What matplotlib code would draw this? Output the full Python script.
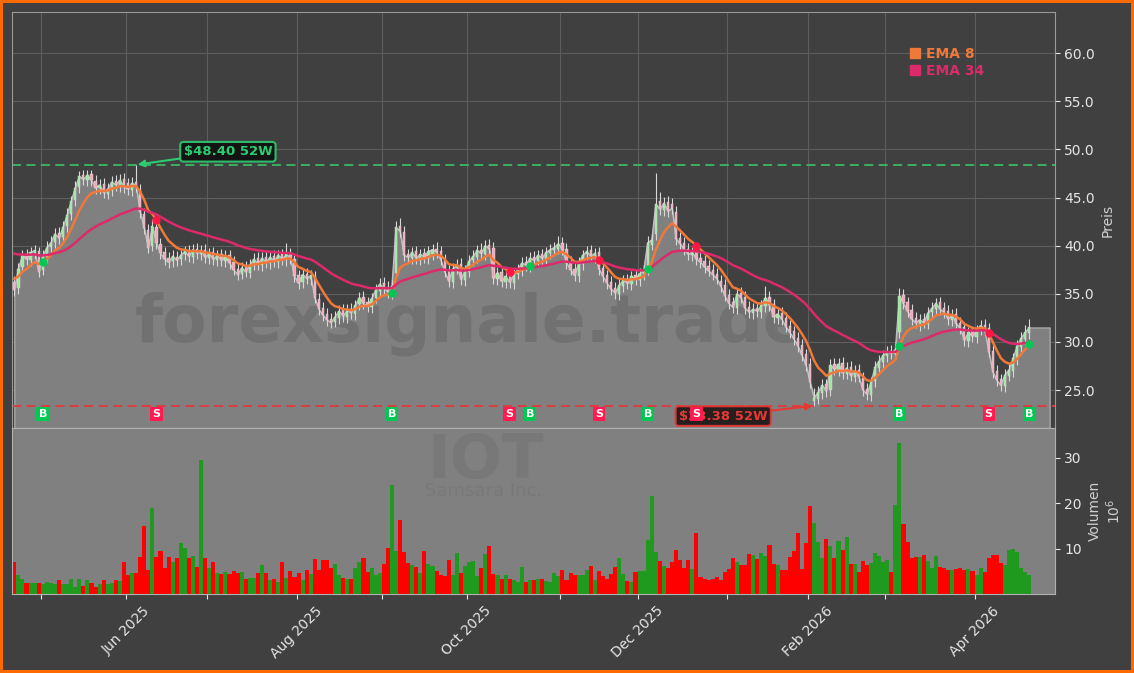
import numpy as np
import matplotlib
matplotlib.use("Agg")
import matplotlib.pyplot as plt
from matplotlib.lines import Line2D

# daily candles, IOT (Samsara Inc.)
close = [
    35.4, 37.6, 39.0, 38.6, 39.3, 39.5, 37.3, 38.9, 39.8, 40.3,
    41.2, 40.8, 41.9, 43.2, 44.6, 46.0, 47.2, 46.9, 47.3, 46.8,
    46.0, 46.3, 45.5, 45.9, 46.6, 46.3, 46.8, 46.1, 45.9,
    46.5, 46.2, 43.5, 41.8, 39.8, 42.0, 40.3, 39.2, 38.6, 38.3,
    38.9, 38.5, 39.0, 39.4, 38.9, 39.6, 39.2, 39.5, 38.8, 39.2,
    38.6, 39.0, 38.5, 38.9, 38.2, 37.5, 37.0, 37.7, 37.3, 38.0,
    38.6, 38.1, 38.7, 38.3, 38.8, 38.4, 39.0, 38.6, 39.1, 38.7,
    36.8, 36.1, 37.0, 36.6, 36.9, 34.6, 33.4, 32.8, 32.3, 32.0,
    32.6, 33.2, 32.7, 33.3, 33.0, 33.8, 34.6, 34.0, 33.7, 34.5,
    35.4, 36.0, 35.6, 35.2, 35.8, 41.9, 41.5, 39.0, 38.8, 39.3,
    38.7, 39.1, 38.8, 39.4, 39.6, 39.3, 38.6, 37.3, 36.3,
    37.6, 38.0, 36.5, 37.4, 38.4, 38.9, 39.5, 39.2, 40.0, 39.7,
    36.6, 37.2, 36.3, 36.8, 36.2, 37.0, 37.5, 38.2, 38.0, 38.7,
    38.5, 39.0, 38.7, 39.3, 39.6, 39.8, 40.2, 39.6, 38.2, 37.5,
    36.9, 38.2, 39.0, 39.4, 38.9, 39.2, 37.6, 36.8, 36.1, 35.5,
    35.1, 35.9, 36.4, 36.1, 36.8, 36.5, 37.1, 37.4, 40.3, 40.6,
    44.3, 43.8, 44.4, 43.6, 43.9, 40.7, 40.2, 39.6, 39.1, 39.3,
    38.6, 38.3, 37.8, 37.4, 37.0, 36.6, 35.8, 34.8, 34.0,
    33.6, 35.0, 34.6, 33.5, 33.1, 33.4, 33.2, 33.8, 34.6, 33.8,
    32.6, 32.9, 32.4, 31.6, 31.0, 30.3, 29.6, 28.6, 27.6, 25.8,
    24.2, 24.8, 25.5, 24.9, 27.6, 27.2, 27.7, 26.8, 27.3, 26.5,
    27.0, 26.4, 25.0, 24.6, 25.8, 27.4, 28.0, 28.6, 29.0, 28.8,
    29.2, 34.8, 34.0, 33.2, 32.4, 32.0, 32.3, 32.0, 33.0,
    33.5, 34.0, 33.4, 33.1, 32.4, 32.8, 31.9, 31.4, 30.2, 31.0,
    30.6, 31.2, 31.7, 31.3, 29.0, 26.9, 26.0, 25.5, 26.6, 27.1,
    28.3, 29.6, 30.4, 31.0, 31.5]

opens = [
    36.2, 35.6, 37.8, 39.1, 38.5, 39.2, 39.4, 37.5, 38.8, 39.9,
    40.4, 41.3, 40.9, 42.0, 43.3, 44.7, 46.1, 47.3, 46.8, 47.4,
    46.7, 46.0, 46.4, 45.4, 45.8, 46.7, 46.2, 46.9, 46.5,
    45.8, 46.6, 45.8, 43.3, 41.6, 40.0, 41.9, 40.2, 39.3, 38.7,
    38.4, 38.8, 38.6, 39.1, 39.5, 38.8, 39.7, 39.1, 39.6, 38.7,
    39.3, 38.5, 39.1, 38.4, 39.0, 38.3, 37.6, 37.1, 37.8, 37.2,
    38.1, 38.7, 38.0, 38.8, 38.2, 38.9, 38.3, 39.1, 38.5, 39.2,
    38.6, 36.9, 36.2, 37.1, 36.5, 36.8, 34.5, 33.5, 32.9, 32.4,
    32.1, 32.5, 33.3, 32.6, 33.4, 32.9, 33.9, 34.7, 34.1, 33.6,
    34.6, 35.3, 36.1, 35.7, 35.1, 37.2, 42.0, 41.4, 39.1, 38.7,
    39.4, 38.6, 39.2, 38.7, 39.1, 39.7, 39.4, 38.5, 37.4,
    36.2, 37.7, 38.1, 36.4, 37.3, 38.5, 38.8, 39.6, 39.1, 40.1,
    39.8, 36.5, 37.3, 36.2, 36.9, 36.1, 37.1, 37.4, 38.3, 37.9,
    38.8, 38.4, 39.1, 38.6, 39.2, 39.5, 39.7, 40.3, 39.7, 38.3,
    37.6, 36.8, 38.1, 39.1, 39.5, 38.8, 39.3, 37.7, 36.9, 36.2,
    35.6, 35.0, 35.8, 36.5, 36.0, 36.9, 36.4, 37.0, 37.6, 40.1,
    41.2, 44.6, 43.7, 44.5, 44.3, 43.5, 40.8, 40.3, 39.7, 39.0,
    39.4, 38.7, 38.4, 37.9, 37.5, 37.1, 36.3, 35.9, 34.9,
    34.1, 33.5, 35.1, 34.7, 33.6, 33.0, 33.5, 33.1, 33.7, 34.7,
    33.9, 32.5, 33.0, 32.5, 31.7, 31.1, 30.4, 29.7, 28.7, 27.7,
    23.9, 24.1, 24.7, 25.6, 25.0, 27.7, 27.1, 27.8, 26.7, 27.4,
    26.4, 27.1, 26.3, 25.1, 24.5, 25.9, 27.3, 27.9, 28.5, 29.1,
    28.7, 31.0, 34.9, 34.1, 33.3, 32.5, 31.7, 32.4, 31.9,
    33.1, 33.4, 34.1, 33.5, 33.2, 32.3, 32.9, 32.0, 31.5, 30.1,
    31.1, 30.5, 31.3, 31.8, 31.4, 29.1, 27.0, 26.1, 25.4, 26.5,
    27.0, 28.2, 29.5, 30.3, 30.9]

highs = [
    36.8, 38.2, 39.6, 39.7, 39.9, 40.1, 39.9, 39.5, 40.5, 41.0,
    41.8, 41.9, 42.6, 43.9, 45.2, 46.7, 47.8, 47.9, 47.9, 47.9,
    47.3, 46.9, 47.0, 46.5, 47.2, 47.3, 47.4, 47.5, 47.0,
    47.1, 48.4, 46.4, 43.9, 42.3, 42.8, 42.5, 40.8, 39.9, 39.3,
    39.5, 39.4, 39.6, 40.0, 40.1, 40.2, 40.3, 40.1, 40.2, 39.8,
    39.9, 39.6, 39.7, 39.5, 39.6, 38.9, 38.2, 38.3, 38.4, 38.6,
    39.2, 39.3, 39.3, 39.4, 39.4, 39.5, 39.6, 39.7, 40.3, 39.8,
    39.0, 37.5, 37.6, 37.7, 37.5, 37.4, 35.1, 34.1, 33.5, 33.0,
    33.2, 33.8, 33.9, 33.9, 34.0, 34.4, 35.2, 35.3, 34.7, 35.1,
    36.0, 36.6, 36.7, 36.3, 36.4, 42.6, 42.9, 42.0, 39.7, 39.9,
    40.0, 39.7, 39.8, 40.0, 40.2, 40.4, 40.0, 39.1, 38.0,
    38.2, 38.6, 38.7, 38.0, 39.0, 39.5, 40.1, 40.3, 40.6, 40.7,
    40.4, 37.8, 37.9, 37.4, 37.5, 37.6, 38.1, 38.8, 38.9, 39.3,
    39.4, 39.6, 39.7, 39.9, 40.2, 40.4, 41.0, 40.9, 40.3, 38.9,
    38.2, 38.8, 39.6, 40.0, 40.1, 39.8, 39.9, 38.3, 37.5, 36.8,
    36.2, 36.5, 37.0, 37.1, 37.4, 37.5, 37.7, 38.0, 41.0, 41.2,
    47.5, 45.6, 45.1, 45.2, 45.0, 44.1, 41.4, 40.9, 40.3, 39.9,
    40.0, 39.3, 39.0, 38.5, 38.1, 37.7, 36.9, 36.5, 35.5,
    34.7, 35.6, 35.7, 35.3, 34.2, 34.0, 34.1, 34.4, 35.8, 35.3,
    34.5, 33.5, 33.6, 33.1, 32.3, 31.7, 31.0, 30.3, 29.3, 28.3,
    25.2, 25.4, 26.1, 26.2, 28.2, 28.3, 28.3, 28.4, 27.9, 28.0,
    27.6, 27.7, 26.9, 25.7, 26.4, 28.0, 28.6, 29.2, 29.6, 29.7,
    29.8, 35.6, 35.5, 34.7, 33.9, 33.1, 32.9, 33.0, 33.6,
    34.1, 34.6, 34.7, 34.1, 33.8, 33.4, 33.5, 32.6, 32.1, 31.6,
    31.7, 31.8, 32.3, 32.4, 32.0, 29.7, 27.6, 26.7, 27.2, 27.7,
    28.9, 30.2, 31.0, 31.8, 32.4]

lows = [
    34.8, 35.0, 37.2, 38.0, 37.9, 38.6, 36.7, 36.9, 38.2, 39.3,
    39.8, 40.2, 40.3, 41.4, 42.7, 44.1, 45.5, 46.3, 46.2, 46.2,
    45.4, 45.4, 44.9, 44.8, 45.2, 45.7, 45.6, 45.5, 45.3,
    45.2, 45.6, 42.9, 41.2, 39.2, 39.4, 39.7, 38.6, 38.0, 37.7,
    37.8, 37.9, 38.0, 38.5, 38.3, 38.2, 38.6, 38.5, 38.2, 38.1,
    38.0, 37.9, 37.9, 37.8, 37.6, 36.9, 36.4, 36.5, 36.7, 36.6,
    37.5, 37.5, 37.4, 37.7, 37.6, 37.8, 37.7, 38.0, 37.9, 38.1,
    36.2, 35.5, 35.6, 36.0, 35.9, 34.0, 32.8, 32.2, 31.7, 31.4,
    31.5, 31.9, 32.1, 32.0, 32.4, 32.3, 33.3, 33.4, 33.1, 33.0,
    34.0, 34.7, 35.0, 34.6, 34.5, 36.6, 40.9, 38.4, 38.2, 38.1,
    38.1, 38.0, 38.2, 38.1, 38.5, 38.7, 38.0, 36.7, 35.7,
    35.6, 37.1, 35.9, 35.8, 36.7, 37.9, 38.2, 38.6, 38.5, 39.1,
    36.0, 35.9, 35.7, 35.6, 35.6, 35.5, 36.5, 36.8, 37.4, 37.3,
    37.9, 37.8, 38.1, 38.0, 38.6, 38.9, 39.1, 39.0, 37.6, 36.9,
    36.3, 36.2, 37.5, 38.5, 38.3, 38.2, 37.0, 36.2, 35.5, 34.9,
    34.5, 34.4, 35.2, 35.5, 35.4, 35.9, 35.8, 36.4, 37.0, 39.5,
    40.6, 43.2, 43.1, 43.0, 43.3, 40.1, 39.6, 39.0, 38.5, 38.4,
    38.0, 37.7, 37.2, 36.8, 36.4, 36.0, 35.2, 34.2, 33.4,
    33.0, 32.9, 34.0, 32.9, 32.5, 32.4, 32.6, 32.5, 33.1, 33.2,
    32.0, 31.9, 31.8, 31.0, 30.4, 29.7, 29.0, 28.0, 27.0, 25.2,
    23.38, 23.6, 24.1, 24.3, 24.4, 26.6, 26.5, 26.2, 26.1, 25.9,
    25.8, 25.8, 24.4, 24.0, 23.9, 25.3, 26.7, 27.3, 27.9, 28.2,
    28.1, 30.4, 33.4, 32.6, 31.8, 31.4, 31.1, 31.4, 31.3,
    32.5, 32.8, 32.8, 32.5, 31.8, 31.7, 31.3, 30.8, 29.6, 29.5,
    30.0, 29.9, 30.7, 30.7, 28.4, 26.3, 25.4, 24.9, 24.8, 25.9,
    26.4, 27.6, 28.9, 29.7, 30.3]

# volume in millions
volume = [
    7.0, 4.1, 3.2, 2.5, 2.5, 2.5, 2.5, 2.2, 2.7, 2.5,
    2.3, 3.0, 2.3, 2.1, 3.2, 1.6, 3.2, 1.8, 3.1, 2.5,
    1.5, 2.2, 3.1, 2.1, 2.5, 3.0, 2.8, 7.0, 4.1, 4.6,
    4.6, 8.2, 15.0, 5.4, 18.9, 8.2, 9.5, 5.8, 8.2, 7.0,
    8.0, 11.2, 10.2,
    8.0, 8.4, 5.9, 29.5, 8.0, 5.8, 7.0, 4.6, 4.5, 4.8,
    4.4, 5.0, 4.6, 4.8, 3.3, 3.5, 3.5, 4.6, 6.3, 4.6,
    3.0, 3.4, 2.6, 7.0, 3.5, 5.0, 3.7, 4.6, 3.0, 5.2,
    4.5, 7.7, 5.2, 7.6, 7.4, 5.8, 6.6, 4.1, 3.6, 3.4,
    3.2, 5.8,
    7.0, 8.0, 4.8, 5.8, 4.1, 4.6, 6.6, 10.2, 24.1, 9.5,
    16.4, 9.2, 6.8, 6.3, 5.9, 4.6, 9.4, 6.7, 6.1, 5.0,
    4.1, 3.9, 7.4, 4.1, 9.0, 4.6, 6.1, 7.0, 7.2, 3.9,
    5.8, 8.8, 10.6, 4.4, 4.1, 3.2, 4.1, 3.4, 3.0, 2.6,
    5.9, 2.6, 3.0,
    3.0, 3.2, 3.3, 2.8, 2.6, 4.6, 3.9, 5.2, 3.0, 4.6,
    4.1, 4.1, 4.1, 5.2, 6.1, 3.0, 5.0, 3.9, 3.4, 4.4,
    5.9, 8.0, 4.5, 2.8, 2.6, 4.8, 5.0, 5.0, 11.9, 21.6,
    9.2, 7.2, 6.1, 5.8, 7.0, 9.6, 7.4, 5.8, 7.4, 5.6,
    13.4, 3.7, 3.4,
    3.0, 3.4, 3.8, 3.0, 4.8, 5.5, 8.0, 7.0, 6.5, 6.3,
    8.8, 8.5, 7.7, 9.0, 8.4, 10.9, 6.7, 6.3, 5.2, 5.2,
    8.2, 9.5, 13.4, 5.5, 11.2, 19.3, 15.7, 11.4, 8.0, 12.2,
    10.6, 8.0, 11.6, 9.8, 12.6, 6.6, 6.6, 4.8, 7.2, 6.3,
    6.8, 9.0, 8.4,
    7.0, 7.5, 4.8, 19.6, 33.2, 15.5, 11.4, 8.0, 8.1, 8.1,
    8.7, 7.3, 5.8, 8.4, 5.9, 5.8, 5.2, 5.2, 5.5, 5.8,
    5.4, 5.5, 5.0, 4.1, 5.8, 4.8, 8.0, 8.6, 8.6, 6.8,
    6.3, 9.8, 10.0, 9.3, 5.8, 4.8, 4.1]

# EMA values already running before the first visible day
ema8_start = 36.9
ema34_start = 39.4

buy_idx = [7, 93, 127, 156, 218, 250]
sell_idx = [35, 122, 144, 168, 240]

month_pos = [6.5, 27.5, 47.5, 69.5, 90.5, 111.5, 134.5, 153.5, 175.5, 195.5, 214.5, 236.5]
month_lbl = ['', 'Jun 2025', '', 'Aug 2025', '', 'Oct 2025', '', 'Dec 2025', '', 'Feb 2026', '', 'Apr 2026']


def ema(vals, span, start):
    a = 2.0 / (span + 1)
    out = []
    prev = start
    for v in vals:
        prev = a * v + (1 - a) * prev
        out.append(prev)
    return np.array(out)


c = np.array(close)
o = np.array(opens)
h = np.array(highs)
l = np.array(lows)
vol = np.array(volume)
idx = np.arange(len(c))
up = c >= o

e8 = ema(c, 8, ema8_start)
e34 = ema(c, 34, ema34_start)

BG = '#404040'
TXT = '#e6e6e6'
ymin, ymax = 21.06, 64.23

fig = plt.figure(figsize=(11.34, 6.73), dpi=100, facecolor=BG,
                 edgecolor='#ff6a00', linewidth=3)
ax = fig.add_axes([0.01085, 0.3640, 0.91905, 0.61768])
axv = fig.add_axes([0.01085, 0.11738, 0.91905, 0.24666], sharex=ax)

ax.set_facecolor(BG)
ax.set_axisbelow(True)
ax.grid(True, color='#5e5e5e', lw=0.8)

# area under the close
fx = np.r_[idx, idx[-1] + 5]
fy = np.r_[c, c[-1]]
ax.fill_between(fx, fy, ymin, color='#808080', ec='#a8a8a8', lw=1, zorder=1)
ax.plot(idx, c, color='#bdbdbd', lw=0.9, zorder=2)

ax.text(0.44, 0.25, 'forexsignale.trade', transform=ax.transAxes, ha='center', va='center',
        fontsize=46.5, fontweight='bold', color='#404040', alpha=0.22, zorder=1.5)

# candles
ax.vlines(idx, l, h, color='#d8d8d8', lw=0.8, zorder=3)
body = np.maximum(np.abs(c - o), 0.08)
ax.bar(idx, body, bottom=np.minimum(o, c), width=0.55,
       color=np.where(up, '#9be89b', '#f4a6b8'), edgecolor='#e0e0e0', lw=0.3, zorder=4)

ax.plot(idx, e8, color='#f07838', lw=1.8, zorder=5)
ax.plot(idx, e34, color='#dc2a6a', lw=1.8, zorder=5)
ax.plot(buy_idx, e8[buy_idx], 'o', color='#00c853', ms=5, zorder=6)
ax.plot(sell_idx, e8[sell_idx], 'o', color='#ff1744', ms=5, zorder=6)

# 52 week high / low
hi_i = int(np.argmax(h))
lo_i = int(np.argmin(l))
hi_v = h[hi_i]
lo_v = l[lo_i]
ax.axhline(hi_v, color='#3cb862', ls=(0, (5, 3)), lw=1.3, zorder=2.5)
ax.axhline(lo_v, color='#e03a3a', ls=(0, (5, 3)), lw=1.3, zorder=2.5)
ax.annotate(f'${hi_v:.2f} 52W', xy=(hi_i, hi_v), xytext=(52.6, 49.75),
            ha='center', va='center', color='#2ecc71', fontsize=9.5, fontweight='bold',
            bbox=dict(boxstyle='round,pad=0.25', fc='#101010', ec='#2ecc71', lw=1.5, alpha=0.9),
            arrowprops=dict(arrowstyle='-|>', color='#2ecc71', lw=1.5, shrinkA=0, shrinkB=1,
                            mutation_scale=10),
            zorder=9)
ax.annotate(f'${lo_v:.2f} 52W', xy=(lo_i, lo_v), xytext=(174.6, 22.3),
            ha='center', va='center', color='#e53935', fontsize=9.5, fontweight='bold',
            bbox=dict(boxstyle='round,pad=0.25', fc='#1e1414', ec='#e53935', lw=1.5, alpha=0.9),
            arrowprops=dict(arrowstyle='-|>', color='#e53935', lw=1.5, shrinkA=0, shrinkB=1,
                            mutation_scale=10),
            zorder=9)

for i in buy_idx:
    ax.text(i, 22.5, 'B', ha='center', va='center', color='white', fontsize=8, fontweight='bold',
            bbox=dict(boxstyle='square,pad=0.2', fc='#00c853', ec='none'), zorder=11)
for i in sell_idx:
    ax.text(i, 22.5, 'S', ha='center', va='center', color='white', fontsize=8, fontweight='bold',
            bbox=dict(boxstyle='square,pad=0.2', fc='#ff1a50', ec='none'), zorder=11)

handles = [Line2D([], [], marker='s', ls='none', color='#f07838', ms=7),
           Line2D([], [], marker='s', ls='none', color='#dc2a6a', ms=7)]
leg = ax.legend(handles, ['EMA 8', 'EMA 34'], loc='upper right', bbox_to_anchor=(0.938, 0.93),
                frameon=False, prop={'weight': 'bold', 'size': 10}, handletextpad=0.3,
                labelspacing=0.2, handlelength=1.0, borderaxespad=0)
for t, col in zip(leg.get_texts(), ['#f07838', '#dc2a6a']):
    t.set_color(col)

ax.set_xlim(-0.5, 256.2)
ax.set_ylim(ymin, ymax)
ax.yaxis.tick_right()
ax.yaxis.set_label_position('right')
ax.set_yticks(np.arange(25, 61, 5))
ax.set_yticklabels([f'{v:.1f}' for v in np.arange(25, 61, 5)])
ax.set_ylabel('Preis', color='#d0d0d0', fontsize=10)
ax.tick_params(axis='y', colors=TXT, labelsize=10)
ax.tick_params(axis='x', length=0, labelbottom=False)
for s in ax.spines.values():
    s.set_color('#9a9a9a')

# volume panel
axv.set_facecolor('#808080')
axv.bar(idx, vol, width=1.0, color=np.where(up, '#1f9a1f', '#ff0000'), zorder=2)
axv.text(0.454, 0.80, 'IOT', transform=axv.transAxes, ha='center', va='center',
         fontsize=44, fontweight='bold', color='#404040', alpha=0.12, zorder=1)
axv.text(0.452, 0.62, 'Samsara Inc.', transform=axv.transAxes, ha='center', va='center',
         fontsize=13, color='#404040', alpha=0.1, zorder=1)
axv.set_ylim(0, 36.6)
axv.yaxis.tick_right()
axv.yaxis.set_label_position('right')
axv.set_yticks([10, 20, 30])
axv.set_ylabel('Volumen\n$10^{6}$', color='#d0d0d0', fontsize=10)
axv.tick_params(axis='y', colors=TXT, labelsize=10)
axv.set_xticks(month_pos)
axv.set_xticklabels(month_lbl, rotation=45, ha='center')
axv.tick_params(axis='x', colors=TXT, labelsize=10)
for s in axv.spines.values():
    s.set_color('#b0b0b0')

fig.savefig('out.png', dpi=100, facecolor=BG, edgecolor='#ff6a00')
